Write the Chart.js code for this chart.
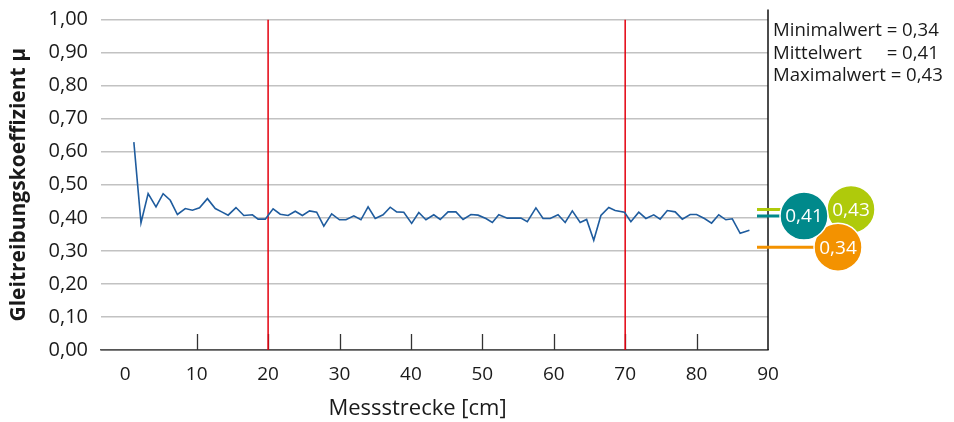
<!DOCTYPE html>
<html><head><meta charset="utf-8">
<script src="https://cdn.jsdelivr.net/npm/chart.js@4/dist/chart.umd.min.js"></script>
<style>html,body{margin:0;padding:0;background:#fff}#wrap{width:954px;height:422px;position:relative}</style>
</head><body><div id="wrap"><canvas id="c" width="954" height="422"></canvas></div>
<script>
// ---- data ----
const xValues = [1.2, 2.2, 3.2, 4.3, 5.3, 6.3, 7.3, 8.4, 9.4, 10.4, 11.5, 12.6, 13.5, 14.4, 15.5, 16.6, 17.8, 18.6, 19.6, 20.7, 21.7,
  22.8, 23.8, 24.8, 25.8, 26.8, 27.8, 28.9, 30.0, 30.9, 32.0, 33.0, 34.0, 35.0, 36.1, 37.1, 38.0, 39.0, 40.1, 41.1, 42.1, 43.2, 44.1,
  45.2, 46.3, 47.3, 48.4, 49.4, 50.5, 51.4, 52.3, 53.5, 54.4, 55.4, 56.3, 57.5, 58.5, 59.5, 60.6, 61.6, 62.6, 63.7, 64.6, 65.6, 66.6, 67.7,
  68.6, 69.9, 70.8, 71.9, 72.9, 74.0, 74.9, 75.9, 77.0, 78.0, 79.1, 80.0, 81.1, 82.1, 83.1, 84.1, 85.0, 86.1, 87.4];
const muValues = [0.629, 0.385, 0.473, 0.433, 0.473, 0.453, 0.410, 0.428, 0.423, 0.430, 0.458, 0.428, 0.418, 0.408, 0.431, 0.407, 0.409, 0.396, 0.396, 0.427, 0.411,
  0.407, 0.420, 0.407, 0.421, 0.417, 0.375, 0.412, 0.394, 0.394, 0.406, 0.394, 0.433, 0.398, 0.409, 0.432, 0.418, 0.417, 0.383, 0.416, 0.394, 0.409, 0.395,
  0.418, 0.418, 0.395, 0.410, 0.408, 0.398, 0.386, 0.409, 0.399, 0.399, 0.399, 0.388, 0.430, 0.398, 0.398, 0.409, 0.386, 0.421, 0.386, 0.395, 0.332, 0.407, 0.431,
  0.422, 0.417, 0.388, 0.417, 0.398, 0.409, 0.396, 0.422, 0.418, 0.396, 0.410, 0.410, 0.398, 0.384, 0.409, 0.394, 0.397, 0.353, 0.362];
const markerLines = [20, 70];
const xTicks = [0, 10, 20, 30, 40, 50, 60, 70, 80, 90];
const yTicks = [0, 0.1, 0.2, 0.3, 0.4, 0.5, 0.6, 0.7, 0.8, 0.9, 1.0];
const statLabels = ['Minimalwert', 'Mittelwert', 'Maximalwert'];
const statValues = [0.34, 0.41, 0.43];
const statColors = ['#f39200', '#00898b', '#afca0b'];
const yTitle = 'Gleitreibungskoeffizient \u03bc';
const xTitle = 'Messstrecke [cm]';

const FONT = "'Open Sans', 'Noto Sans', sans-serif";
const fmt = v => v.toFixed(2).replace('.', ',');

Chart.defaults.font.family = FONT;
Chart.defaults.color = '#1a1a1a';

const datasets = [{
  data: xValues.map((x, i) => ({x, y: muValues[i]})),
  borderColor: '#1f5c9e', borderWidth: 1.6, pointRadius: 0, tension: 0
}];
markerLines.forEach(m => datasets.push({
  data: [{x: m, y: 0}, {x: m, y: 1}],
  borderColor: '#e3000f', borderWidth: 1.5, pointRadius: 0
}));

const decor = {
  id: 'decor',
  beforeDatasetsDraw(chart) {
    const {ctx, chartArea: a, scales: {x}} = chart;
    ctx.save();
    ctx.strokeStyle = '#333'; ctx.lineWidth = 1.3;
    xTicks.forEach(v => {
      if (v <= 0 || v >= 90) return;
      const px = Math.round(x.getPixelForValue(v)) + 0.5;
      ctx.beginPath(); ctx.moveTo(px, a.bottom); ctx.lineTo(px, a.bottom - 16); ctx.stroke();
    });
    ctx.restore();
  },
  afterDraw(chart) {
    const {ctx, chartArea: a, scales: {y}} = chart;
    ctx.save();
    // right border
    ctx.strokeStyle = '#111'; ctx.lineWidth = 1.5;
    ctx.beginPath(); ctx.moveTo(a.right, a.top - 10); ctx.lineTo(a.right, a.bottom); ctx.stroke();
    // stats text
    ctx.fillStyle = '#1a1a1a';
    ctx.font = '18.6px ' + FONT;
    ctx.textBaseline = 'alphabetic'; ctx.textAlign = 'left';
    const tx = a.right + 5;
    const eqX = tx + ctx.measureText(statLabels[0] + ' ').width;
    ctx.fillText(statLabels[0] + ' = ' + fmt(statValues[0]), tx, a.top + 16.5);
    ctx.fillText(statLabels[1], tx, a.top + 39);
    ctx.fillText('= ' + fmt(statValues[1]), eqX, a.top + 39);
    ctx.fillText(statLabels[2] + ' = ' + fmt(statValues[2]), tx, a.top + 61.5);
    // x title
    ctx.font = '22px ' + FONT;
    ctx.textAlign = 'center'; ctx.textBaseline = 'middle';
    ctx.fillText(xTitle, (a.left + a.right) / 2 - 17, 409);
    // value bubbles: [index, dx, extra dy]
    const bubbles = [[2, 83, 1.5], [0, 70, 9.5], [1, 36, 1.5]];
    ctx.lineWidth = 3;
    bubbles.forEach(([i, dx, dy]) => {
      const py = y.getPixelForValue(statValues[i]) + dy;
      ctx.strokeStyle = statColors[i];
      ctx.beginPath(); ctx.moveTo(a.right - 11, py); ctx.lineTo(a.right + dx - 10, py); ctx.stroke();
    });
    bubbles.forEach(([i, dx, dy]) => {
      const py = y.getPixelForValue(statValues[i]) + dy;
      const cx = a.right + dx;
      ctx.beginPath(); ctx.arc(cx, py, 24, 0, Math.PI * 2);
      ctx.fillStyle = statColors[i]; ctx.fill();
      ctx.strokeStyle = '#fff'; ctx.lineWidth = 1.5; ctx.stroke();
      ctx.fillStyle = '#fff'; ctx.font = '19px ' + FONT;
      ctx.textAlign = 'center'; ctx.textBaseline = 'middle';
      ctx.fillText(fmt(statValues[i]), cx, py + 1);
    });
    ctx.restore();
  }
};

new Chart(document.getElementById('c'), {
  type: 'line',
  data: {datasets},
  options: {
    responsive: false, animation: false, devicePixelRatio: 1,
    layout: {padding: {top: 19.5, right: 186, left: 0, bottom: 0}},
    plugins: {legend: {display: false}, tooltip: {enabled: false}},
    scales: {
      x: {
        type: 'linear', min: -3.4, max: 90,
        afterBuildTicks: s => { s.ticks = xTicks.map(v => ({value: v})); },
        afterFit: s => { s.height = 72; },
        grid: {display: false},
        border: {display: true, color: '#555', width: 1.5},
        ticks: {font: {size: 19}, padding: 5, maxRotation: 0, autoSkip: false, color: '#1a1a1a'}
      },
      y: {
        min: 0, max: 1,
        afterBuildTicks: s => { s.ticks = yTicks.map(v => ({value: v})); },
        afterFit: s => { s.width = 101; s.paddingTop = 8; s.paddingBottom = 0; },
        grid: {color: ctx => ctx.tick && ctx.tick.value === 0 ? '#555' : '#c2c2c2', lineWidth: 1.5, drawTicks: false},
        border: {display: false},
        ticks: {font: {size: 20}, padding: 13, color: '#1a1a1a', callback: v => fmt(v)},
        title: {display: true, text: yTitle, font: {size: 21, weight: 'bold'}, color: '#1a1a1a', padding: {top: 6, bottom: 0}}
      }
    }
  },
  plugins: [decor]
});
</script></body></html>
